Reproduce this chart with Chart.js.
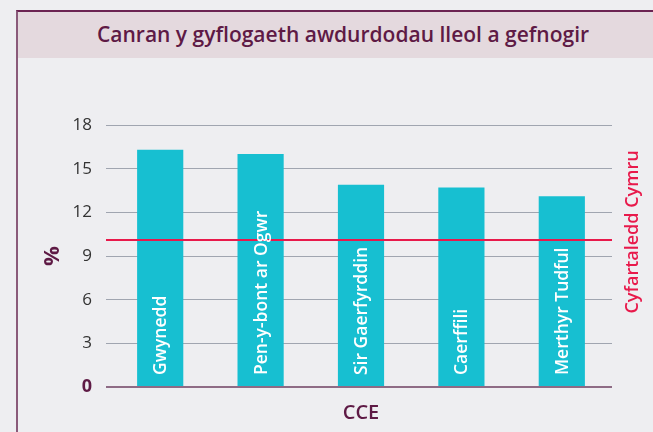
<!DOCTYPE html>
<html>
<head>
<meta charset="utf-8">
<script src="https://cdn.jsdelivr.net/npm/chart.js@4"></script>
<style>
  html, body { margin: 0; padding: 0; background: #eeeef1; }
  #wrap { position: relative; width: 653px; height: 432px; overflow: hidden; }
  #frame { position: absolute; left: 16px; top: 10px; width: 700px; height: 500px;
    border-left: 2px solid #8a5a7a; border-top: 2px solid #6b2352; box-sizing: border-box; }
  #band { position: absolute; left: 18px; top: 12px; width: 700px; height: 46px; background: #e4d9de;
    font: 600 21px "Open Sans", sans-serif; color: #5e1a45; line-height: 44px; }
  #band span { position: absolute; left: 79px; top: 0; white-space: nowrap; }
  #c { position: absolute; left: 0; top: 0; }
</style>
</head>
<body>
<div id="wrap">
  <div id="frame"></div>
  <div id="band"><span>Canran y gyflogaeth awdurdodau lleol a gefnogir</span></div>
  <canvas id="c" width="653" height="432"></canvas>
</div>
<script>
  const councils = ['Gwynedd', 'Pen-y-bont ar Ogwr', 'Sir Gaerfyrddin', 'Caerffili', 'Merthyr Tudful'];
  const shares = [16.3, 16.0, 13.9, 13.7, 13.1];
  const walesAverage = 10.1;
  const avgLabel = 'Cyfartaledd Cymru';
  const yTicks = [0, 3, 6, 9, 12, 15, 18];

  const maroon = '#5e1a45';
  const red = '#e8194b';
  const isZero = (c) => !!(c.tick && c.tick.value === 0);

  const extras = {
    id: 'extras',
    afterDatasetsDraw(chart) {
      const { ctx, chartArea, scales } = chart;
      const y = scales.y.getPixelForValue(walesAverage);
      ctx.save();
      // Wales average line
      ctx.strokeStyle = red;
      ctx.lineWidth = 2;
      ctx.beginPath();
      ctx.moveTo(chartArea.left - 4, y); ctx.lineTo(chartArea.right, y); ctx.stroke();

      // labels inside the bars
      ctx.fillStyle = '#ffffff';
      ctx.font = '600 17.5px "Open Sans", sans-serif';
      ctx.textBaseline = 'middle';
      ctx.textAlign = 'left';
      chart.getDatasetMeta(0).data.forEach((bar, i) => {
        ctx.save();
        ctx.translate(bar.x, scales.y.getPixelForValue(0) - 12);
        ctx.rotate(-Math.PI / 2);
        ctx.fillText(councils[i], 0, 1);
        ctx.restore();
      });

      // right-hand label for the average
      ctx.fillStyle = red;
      ctx.font = '600 18px "Open Sans", sans-serif';
      ctx.textAlign = 'center';
      ctx.translate(633, 232);
      ctx.rotate(-Math.PI / 2);
      ctx.fillText(avgLabel, 0, 0);
      ctx.restore();
    }
  };

  new Chart(document.getElementById('c'), {
    type: 'bar',
    data: {
      labels: councils,
      datasets: [{
        data: shares,
        backgroundColor: '#17bfd1',
        borderWidth: 0,
        barPercentage: 0.46,
        categoryPercentage: 1
      }]
    },
    options: {
      responsive: false,
      animation: false,
      layout: { padding: { left: 40, right: 41, top: 125, bottom: 7 } },
      plugins: { legend: { display: false }, tooltip: { enabled: false } },
      scales: {
        x: {
          grid: { display: false },
          border: { display: false },
          ticks: { display: false },
          title: { display: true, text: 'CCE', color: maroon, font: { family: 'Open Sans', size: 20, weight: '600' }, padding: { top: 10, bottom: 0 } },
          afterFit(scale) { scale.height = 38; }
        },
        y: {
          min: 0, max: 18,
          afterBuildTicks(scale) { scale.ticks = yTicks.map(v => ({ value: v })); },
          border: { display: false },
          grid: {
            color: (c) => isZero(c) ? '#8e6b85' : '#a0a5b0',
            lineWidth: (c) => isZero(c) ? 2 : 1,
            tickLength: 4
          },
          ticks: {
            padding: 14,
            color: (c) => isZero(c) ? maroon : '#333333',
            font: (c) => isZero(c)
              ? { family: 'Open Sans', size: 18, weight: '700' }
              : { family: 'Open Sans', size: 17, weight: '400' }
          },
          title: { display: true, text: '%', color: maroon, font: { family: 'Open Sans', size: 22, weight: '700' }, padding: { top: 0, bottom: 2 } },
          afterFit(scale) { scale.width = 70; }
        }
      }
    },
    plugins: [extras]
  });
</script>
</body>
</html>
